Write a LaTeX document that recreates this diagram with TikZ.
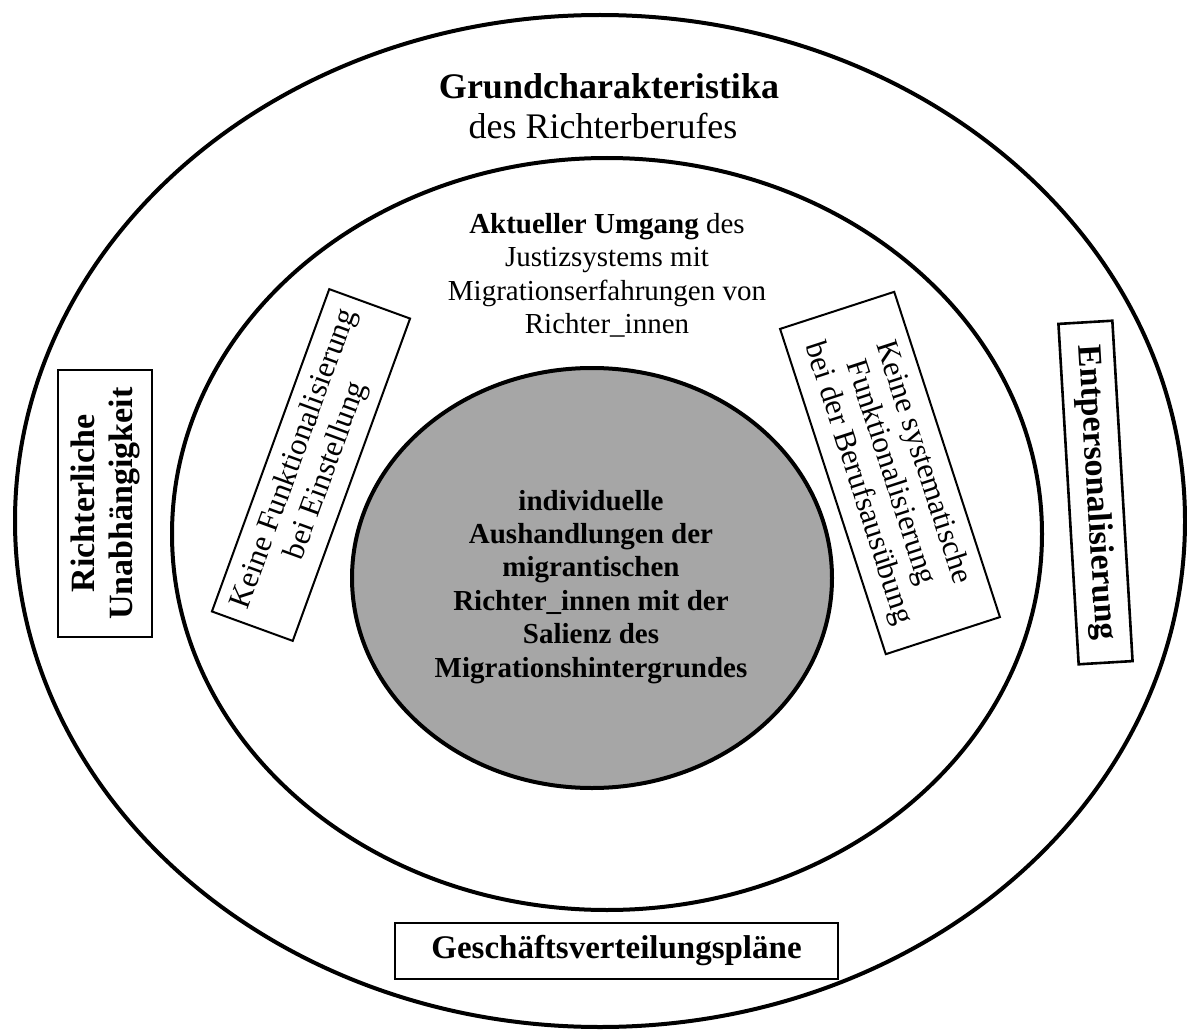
\documentclass[tikz,border=0pt]{standalone}
\usepackage{fontspec}
\setmainfont{Liberation Serif}
\usetikzlibrary{shapes.geometric}
\begin{document}
\begin{tikzpicture}[x=1pt,y=-1pt,
  ring/.style={draw, ellipse, line width=4pt, inner sep=0pt},
  framebox/.style={draw, line width=2.6pt, inner sep=0pt, align=center},
  tiltbox/.style={draw, line width=2pt, inner sep=0pt, align=center,
    font=\fontsize{31}{34}\selectfont},
  plaintext/.style={inner sep=0pt, align=center},
]
\useasboundingbox (0,0) rectangle (1187,1030);

% three nested rings
\node[ring, minimum width=1170pt, minimum height=1012pt] (outer) at (600,521) {};
\node[ring, minimum width=870pt, minimum height=752pt] (inner) at (607,534) {};
\node[ring, fill=black!35, minimum width=480pt, minimum height=420pt] (core) at (592,578) {};

% outer ring heading
\node[plaintext, anchor=base, font=\fontsize{36}{40}\selectfont\bfseries] (title1) at (609,99) {Grundcharakteristika};
\node[plaintext, anchor=base, font=\fontsize{36}{40}\selectfont] (title2) at (603,139) {des Richterberufes};

% inner ring heading (anchored at the baseline of its last line)
\node[plaintext, anchor=base, font=\fontsize{29}{33.5}\selectfont] (umgang) at (607,333.5)
  {\textbf{Aktueller Umgang} des\\Justizsystems mit\\Migrationserfahrungen von\\Richter\_innen};

% core text (anchored at the baseline of its last line)
\node[plaintext, anchor=base, font=\fontsize{29}{33.4}\selectfont\bfseries] (coretext) at (591,677)
  {individuelle\\Aushandlungen der\\migrantischen\\Richter\_innen mit der\\Salienz des\\Migrationshintergrundes};

% tilted boxes in the inner ring
\node[tiltbox, rotate=70, minimum width=343pt, minimum height=86pt] (einstellung) at (311,465)
  {Keine Funktionalisierung\\bei Einstellung};
\node[tiltbox, rotate=-72, minimum width=342pt, minimum height=120pt] (berufsausuebung) at (890,473)
  {Keine systematische\\Funktionalisierung\\bei der Berufsausübung};

% boxes in the outer ring
\node[framebox, rotate=90, minimum width=267pt, minimum height=94pt,
  font=\fontsize{34}{38}\selectfont\bfseries] (unabh) at (105,503.5)
  {Richterliche\\Unabhängigkeit};
\node[framebox, rotate=-86.6, minimum width=341pt, minimum height=54pt,
  font=\fontsize{34}{38}\selectfont\bfseries] (entpers) at (1095.5,492.5)
  {Entpersonalisierung};
\node[framebox, minimum width=443pt, minimum height=56pt,
  font=\fontsize{33}{38}\selectfont\bfseries] (gvp) at (616.5,951)
  {Geschäftsverteilungspläne};
\end{tikzpicture}
\end{document}
